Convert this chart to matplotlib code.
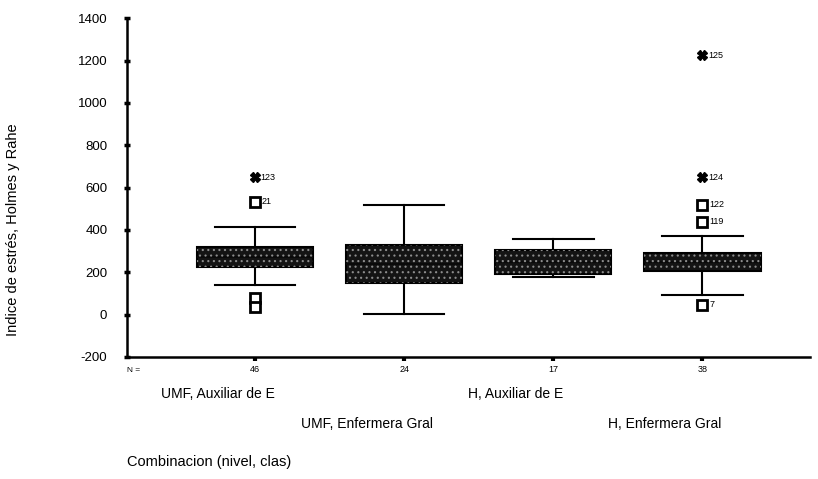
import matplotlib.pyplot as plt
from matplotlib.patches import PathPatch
from matplotlib.transforms import blended_transform_factory

plt.rcParams['font.family'] = ['Liberation Sans', 'DejaVu Sans']
plt.rcParams['axes.unicode_minus'] = False
plt.rcParams['hatch.linewidth'] = 0.8

# box statistics
groups = ["UMF, Auxiliar de E", "UMF, Enfermera Gral", "H, Auxiliar de E", "H, Enfermera Gral"]
counts = [46, 24, 17, 38]
q1 = [226, 151, 193, 207]
med = [273, 240, 250, 250]
q3 = [320, 329, 306, 292]
whis_lo = [141, 5, 179, 94]
whis_hi = [414, 518, 358, 372]

# outliers (open marks) and extremes (stars): group number, value, case label
out_grp = [1, 1, 1, 4, 4, 4]
out_val = [80, 38, 532, 518, 438, 47]
out_lab = ["", "", "21", "122", "119", "7"]
ext_grp = [1, 4, 4]
ext_val = [650, 650, 1224]
ext_lab = ["123", "124", "125"]

fig = plt.figure(figsize=(8.18, 4.79), dpi=100)
ax = fig.add_axes([0.155, 0.2547, 0.835, 0.7073])

stats = []
for i in range(4):
    stats.append(dict(med=med[i], q1=q1[i], q3=q3[i], whislo=whis_lo[i],
                      whishi=whis_hi[i], fliers=[]))
pos = [1, 2, 3, 4]
bp = ax.bxp(stats, positions=pos, widths=0.78, capwidths=0.54, patch_artist=True,
            showfliers=False,
            boxprops=dict(facecolor='#141414', edgecolor='black', linewidth=1.5),
            medianprops=dict(color='#0a0a0a', linewidth=1.5),
            whiskerprops=dict(color='black', linewidth=1.5),
            capprops=dict(color='black', linewidth=1.5))
for b in bp['boxes']:
    ax.add_patch(PathPatch(b.get_path(), facecolor='none', edgecolor='#8c8c8c',
                           hatch='...', linewidth=0, zorder=b.get_zorder() + 0.1))

# outliers
ax.plot(out_grp, out_val, linestyle='none', marker='s', markersize=7,
        markerfacecolor='white', markeredgecolor='black', markeredgewidth=2, zorder=5)
for g, v, t in zip(out_grp, out_val, out_lab):
    if t:
        ax.annotate(t, (g, v), xytext=(5, 0), textcoords='offset points',
                    fontsize=6.5, va='center', ha='left')
ax.plot(ext_grp, ext_val, linestyle='none', marker='X', markersize=7,
        color='black', zorder=5)
for g, v, t in zip(ext_grp, ext_val, ext_lab):
    ax.annotate(t, (g, v), xytext=(4, 0), textcoords='offset points',
                fontsize=6.5, va='center', ha='left')

ax.set_xlim(0.14, 4.72)
ax.set_ylim(-200, 1400)
ax.set_yticks(range(-200, 1401, 200))
ax.set_xticks(pos)
ax.set_xticklabels([str(c) for c in counts], fontsize=6.5)
ax.tick_params(axis='x', direction='out', length=3, width=3, pad=3)
ax.tick_params(axis='y', direction='inout', length=4, width=2.5, pad=12, labelsize=9.5)
for s in ['top', 'right']:
    ax.spines[s].set_visible(False)
ax.spines['left'].set_linewidth(1.8)
ax.spines['bottom'].set_linewidth(1.8)

trans = blended_transform_factory(ax.transData, ax.transAxes)
ax.text(0.14, -0.03, "N =", transform=trans, fontsize=6, ha='left', va='top')
offsets = [-27, -48, -27, -48]
for i, g in enumerate(groups):
    ax.annotate(g, (pos[i] - 0.25, 0), xycoords=trans, xytext=(0, offsets[i]),
                textcoords='offset points', fontsize=10, ha='center', va='center')

fig.text(0.016, 0.52, "Indice de estrés, Holmes y Rahe", rotation=90,
         fontsize=10.5, ha='center', va='center')
fig.text(0.155, 0.035, "Combinacion (nivel, clas)", fontsize=10.5, ha='left', va='center')

fig.savefig('out.png', dpi=100)
